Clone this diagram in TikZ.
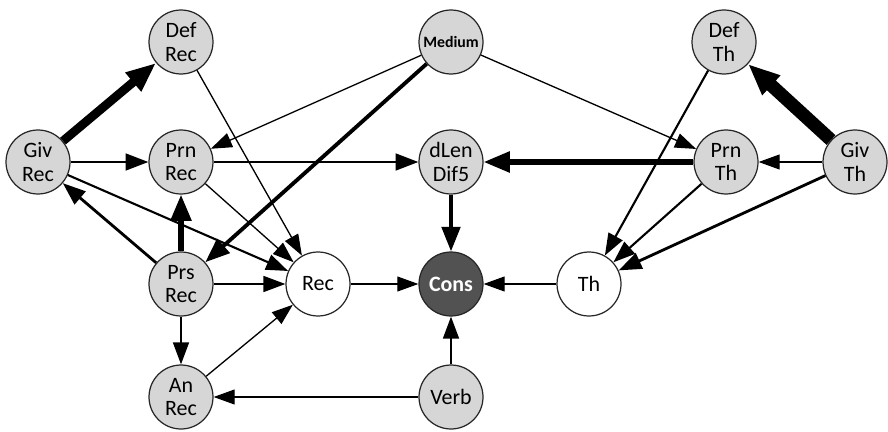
\documentclass[tikz,border=0pt]{standalone}
\usepackage{fontspec}
\setmainfont{Carlito}
\usetikzlibrary{arrows.meta}

\tikzset{
  varnode/.style={circle, draw=black!85, line width=0.7pt, fill=black!16, minimum size=1.28cm,
    inner sep=0pt, align=center, font=\fontsize{12.5}{13.5}\selectfont},
  latnode/.style={varnode, fill=white},
  consnode/.style={varnode, fill=black!68, text=white, font=\fontsize{12.5}{13.5}\selectfont\bfseries},
  mednode/.style={varnode, font=\fontsize{9}{10}\selectfont\bfseries},
  e1/.style={line width=0.75pt, -{Triangle[length=12pt,width=8.5pt]}},
  e2/.style={line width=1.2pt, -{Triangle[length=12.5pt,width=9pt]}},
  e3/.style={line width=1.6pt, -{Triangle[length=13pt,width=9.5pt]}},
  e4/.style={line width=2.2pt, -{Triangle[length=14pt,width=10.5pt]}},
  e5/.style={line width=3pt, -{Triangle[length=15pt,width=11.5pt]}},
  e6/.style={line width=5pt, -{Triangle[length=17pt,width=13pt]}}
}

\begin{document}
\begin{tikzpicture}[x=0.02cm, y=-0.02cm]
	\useasboundingbox (0,0) rectangle (888,432);
	% nodes
	\node[varnode] (defrec) at (181,42) {Def\\Rec};
	\node[mednode] (medium) at (451,42) {Medium};
	\node[varnode] (defth) at (724,42) {Def\\Th};
	\node[varnode] (givrec) at (38,162) {Giv\\Rec};
	\node[varnode] (prnrec) at (181,162) {Prn\\Rec};
	\node[varnode] (dlen) at (451,162) {dLen\\Dif5};
	\node[varnode] (prnth) at (726,162) {Prn\\Th};
	\node[varnode] (givth) at (855,162) {Giv\\Th};
	\node[varnode] (prsrec) at (181,284) {Prs\\Rec};
	\node[latnode] (rec) at (318,284) {Rec};
	\node[consnode] (cons) at (451,284) {Cons};
	\node[latnode] (th) at (589,284) {Th};
	\node[varnode] (anrec) at (181,397) {An\\Rec};
	\node[varnode] (verb) at (451,397) {Verb};
	%
	\draw[e6] (givrec)--(defrec);
	\draw[e3] (givrec)--(prnrec);
	\draw[e2] (givrec)--(rec);
	\draw[e1] (defrec)--(rec);
	\draw[e1] (prnrec)--(rec);
	\draw[e3] (prnrec)--(dlen);
	\draw[e1] (medium)--(prnrec);
	\draw[e4] (medium)--(prsrec);
	\draw[e1] (medium)--(prnth);
	\draw[e3] (prsrec)--(givrec);
	\draw[e5] (prsrec)--(prnrec);
	\draw[e2] (prsrec)--(rec);
	\draw[e2] (prsrec)--(anrec);
	\draw[e1] (anrec)--(rec);
	\draw[e1] (verb)--(anrec);
	\draw[e2] (verb)--(cons);
	\draw[e1] (rec)--(cons);
	\draw[e1] (th)--(cons);
	\draw[e4] (dlen)--(cons);
	%
	\draw[e5] (prnth)--(dlen);
	\draw[e1] (givth)--(prnth);
	\draw[line width=7.5pt, -{Triangle[length=18pt,width=14pt]}] (givth)--(defth);
	\draw[e2] (defth)--(th);
	\draw[e2] (prnth)--(th);
	\draw[e3] (givth)--(th);
\end{tikzpicture}
\end{document}
